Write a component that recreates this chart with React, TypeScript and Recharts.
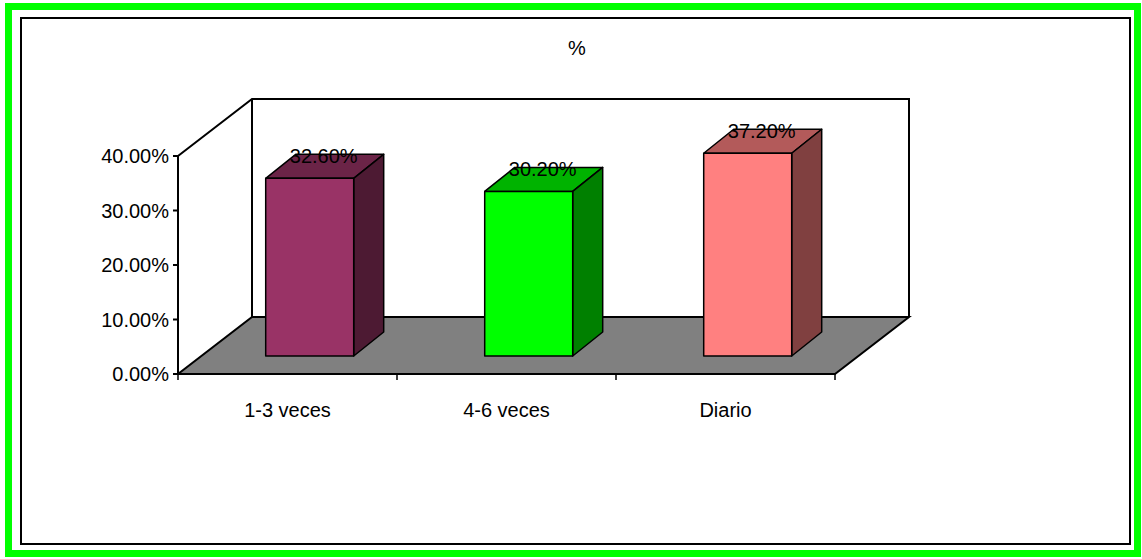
import { Bar, BarChart, LabelList, XAxis, YAxis } from "recharts";

const categories = ["1-3 veces", "4-6 veces", "Diario"];
const shares = [0.326, 0.302, 0.372];
const yTicks = [0, 0.1, 0.2, 0.3, 0.4];
const title = "%";

const data = categories.map((name, i) => ({ name, value: shares[i] }));

const FONT = "'Liberation Sans', Arial, sans-serif";
// front face colour, top face, side face
const faces = [
  ["#993366", "#6b2447", "#4d1a33"],
  ["#00ff00", "#00b300", "#008000"],
  ["#ff8080", "#b35a5a", "#804040"],
];

// plot box (the front frame of the 3d floor)
const L = 178;
const R = 835;
const T = 156;
const B = 374;
const BAND = (R - L) / 3;
// depth of the whole box, and of one bar
const DX = 74;
const DY = 57;
const BX = 30;
const BY = 24;
// bars stand a bit behind the front edge
const SX = 22;
const SY = 18;

const pct = (v: number) => `${(v * 100).toFixed(2)}%`;

function Backdrop() {
  return (
    <g>
      <polygon
        points={`${L},${B} ${R},${B} ${R + DX},${B - DY} ${L + DX},${B - DY}`}
        fill="#808080"
        stroke="#000"
        strokeWidth={2}
      />
      <polyline
        points={`${L},${T} ${L + DX},${T - DY} ${R + DX},${T - DY} ${R + DX},${B - DY}`}
        fill="none"
        stroke="#000"
        strokeWidth={2}
      />
      <line x1={L + DX} y1={T - DY} x2={L + DX} y2={B - DY} stroke="#000" strokeWidth={2} />
    </g>
  );
}

function Box(props: any) {
  const { x, y, width, height, index } = props;
  const [front, top, side] = faces[index % faces.length];
  const fx = x + SX;
  const fy = y - SY;
  const w = width;
  const h = height;
  return (
    <g stroke="#000" strokeWidth={1.5} strokeLinejoin="round">
      <polygon points={`${fx},${fy} ${fx + BX},${fy - BY} ${fx + w + BX},${fy - BY} ${fx + w},${fy}`} fill={top} />
      <polygon
        points={`${fx + w},${fy} ${fx + w + BX},${fy - BY} ${fx + w + BX},${fy + h - BY} ${fx + w},${fy + h}`}
        fill={side}
      />
      <rect x={fx} y={fy} width={w} height={h} fill={front} />
    </g>
  );
}

function BarLabel(props: any) {
  const { x, y, width, value } = props;
  return (
    <text
      x={x + width / 2 + SX + 14}
      y={y - SY - 22}
      textAnchor="middle"
      dominantBaseline="central"
      fontSize={20}
      fontFamily={FONT}
      fill="#000"
    >
      {pct(value)}
    </text>
  );
}

function CatTick(props: any) {
  const { x, payload, index } = props;
  return (
    <g>
      <line x1={x - BAND / 2} y1={B} x2={x - BAND / 2} y2={B + 6} stroke="#000" strokeWidth={1.5} />
      {index === categories.length - 1 && (
        <line x1={x + BAND / 2} y1={B} x2={x + BAND / 2} y2={B + 6} stroke="#000" strokeWidth={1.5} />
      )}
      <text x={x} y={410} textAnchor="middle" dominantBaseline="central" fontSize={20} fontFamily={FONT} fill="#000">
        {payload.value}
      </text>
    </g>
  );
}

export default function App() {
  return (
    <div style={{ position: "absolute", left: 0, top: 0, width: 1142, height: 559, background: "#fff" }}>
      <div
        style={{
          position: "absolute",
          left: 5,
          top: 3,
          width: 1136,
          height: 554,
          border: "7px solid #00ff00",
          boxSizing: "border-box",
        }}
      />
      <div
        style={{
          position: "absolute",
          left: 20,
          top: 17,
          width: 1111,
          height: 528,
          border: "2px solid #000",
          boxSizing: "border-box",
        }}
      />
      <div
        style={{
          position: "absolute",
          left: 0,
          width: 1154,
          top: 36,
          textAlign: "center",
          fontFamily: FONT,
          fontSize: 20,
          lineHeight: "24px",
        }}
      >
        {title}
      </div>
      <div style={{ position: "absolute", left: 0, top: 0 }}>
        <BarChart
          width={1142}
          height={559}
          data={data}
          margin={{ top: T, right: 1142 - R, bottom: 559 - B - 40, left: L - 90 }}
          barCategoryGap="30%"
        >
          <Backdrop />
          <XAxis
            dataKey="name"
            height={40}
            axisLine={{ stroke: "#000", strokeWidth: 2 }}
            tickLine={false}
            tick={<CatTick />}
            interval={0}
          />
          <YAxis
            width={90}
            domain={[0, 0.4]}
            ticks={yTicks}
            tickFormatter={pct}
            axisLine={{ stroke: "#000", strokeWidth: 2 }}
            tickLine={{ stroke: "#000", strokeWidth: 2 }}
            tickSize={5}
            tickMargin={4}
            tick={{ fill: "#000", fontSize: 20, fontFamily: FONT }}
          />
          <Bar dataKey="value" shape={<Box />} isAnimationActive={false}>
            <LabelList dataKey="value" content={<BarLabel />} />
          </Bar>
        </BarChart>
      </div>
    </div>
  );
}
